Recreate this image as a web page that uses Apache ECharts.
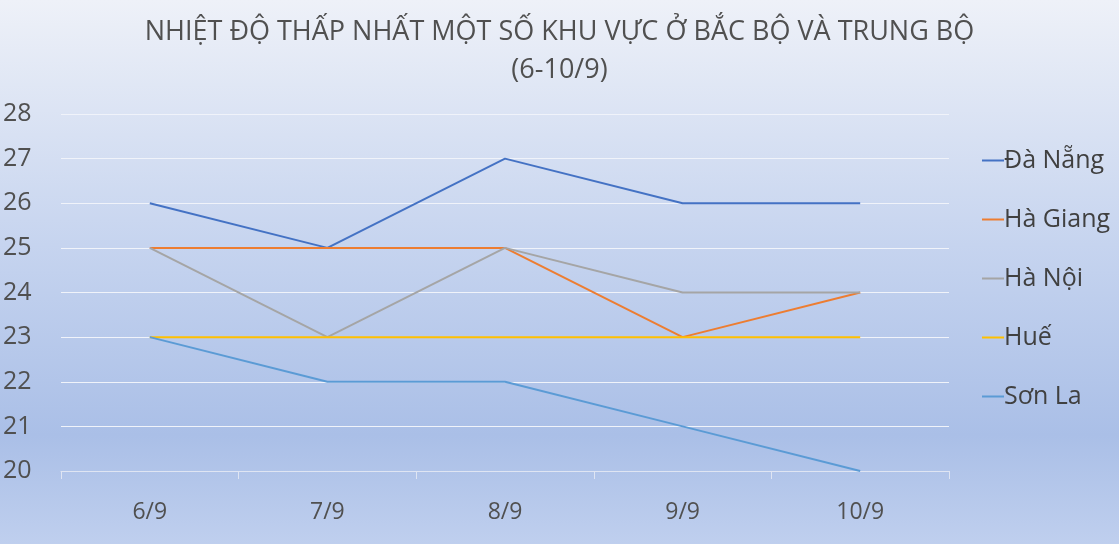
<!DOCTYPE html>
<html>
<head>
<meta charset="utf-8">
<script src="https://cdn.jsdelivr.net/npm/echarts@6/dist/echarts.min.js"></script>
<style>
  html, body { margin: 0; padding: 0; }
  #chart { width: 1119px; height: 544px; }
</style>
</head>
<body>
<div id="chart"></div>
<script>
// ngày
var days = ['6/9', '7/9', '8/9', '9/9', '10/9'];
// nhiệt độ thấp nhất từng nơi
var daNang = [26, 25, 27, 26, 26];
var haGiang = [25, 25, 25, 23, 24];
var haNoi = [25, 23, 25, 24, 24];
var hue = [23, 23, 23, 23, 23];
var sonLa = [23, 22, 22, 21, 20];
var names = ['Đà Nẵng', 'Hà Giang', 'Hà Nội', 'Huế', 'Sơn La'];
var colors = ['#4472C4', '#ED7D31', '#A5A5A5', '#FFC000', '#5B9BD5'];

var chart = echarts.init(document.getElementById('chart'));

function mkLine(i, data) {
  return {
    name: names[i],
    type: 'line',
    data: data,
    symbol: 'none',
    lineStyle: { width: 2, color: colors[i] },
    itemStyle: { color: colors[i] }
  };
}

var option = {
  backgroundColor: new echarts.graphic.LinearGradient(0, 0, 0, 1, [
    { offset: 0, color: '#eef1f8' },
    { offset: 0.45, color: '#c6d4ef' },
    { offset: 0.8, color: '#aabfe7' },
    { offset: 1, color: '#bfcfee' }
  ]),
  color: colors,
  animation: false,
  title: {
    text: 'NHIỆT ĐỘ THẤP NHẤT MỘT SỐ KHU VỰC Ở BẮC BỘ VÀ TRUNG BỘ\n(6-10/9)',
    left: 'center',
    top: 8,
    textStyle: {
      fontFamily: 'Open Sans',
      fontWeight: 'normal',
      fontSize: 27,
      lineHeight: 38,
      color: '#505050'
    }
  },
  legend: {
    orient: 'vertical',
    left: 977,
    top: 143,
    itemWidth: 22,
    itemHeight: 2,
    itemGap: 34,
    icon: 'rect',
    textStyle: { fontSize: 25, color: '#404040', fontFamily: 'Open Sans', padding: [0, 0, 0, -5] },
    data: names
  },
  grid: { left: 57, right: 170, top: 114, bottom: 73, containLabel: false },
  xAxis: {
    type: 'category',
    data: days,
    boundaryGap: true,
    axisLine: { lineStyle: { color: '#dfe5f3', width: 1 } },
    axisTick: { show: true, length: 8, lineStyle: { color: '#dfe5f3' } },
    axisLabel: { fontSize: 23, color: '#505050', margin: 30, fontFamily: 'Open Sans' }
  },
  yAxis: {
    type: 'value',
    min: 20,
    max: 28,
    interval: 1,
    axisLine: { show: false },
    axisTick: { show: false },
    splitLine: { lineStyle: { color: '#f0f3fa', width: 1 } },
    axisLabel: { fontSize: 25, color: '#505050', align: 'left', margin: 58, fontFamily: 'Open Sans' }
  },
  series: [
    mkLine(0, daNang),
    mkLine(1, haGiang),
    mkLine(2, haNoi),
    mkLine(3, hue),
    mkLine(4, sonLa)
  ]
};
chart.setOption(option);
</script>
</body>
</html>
